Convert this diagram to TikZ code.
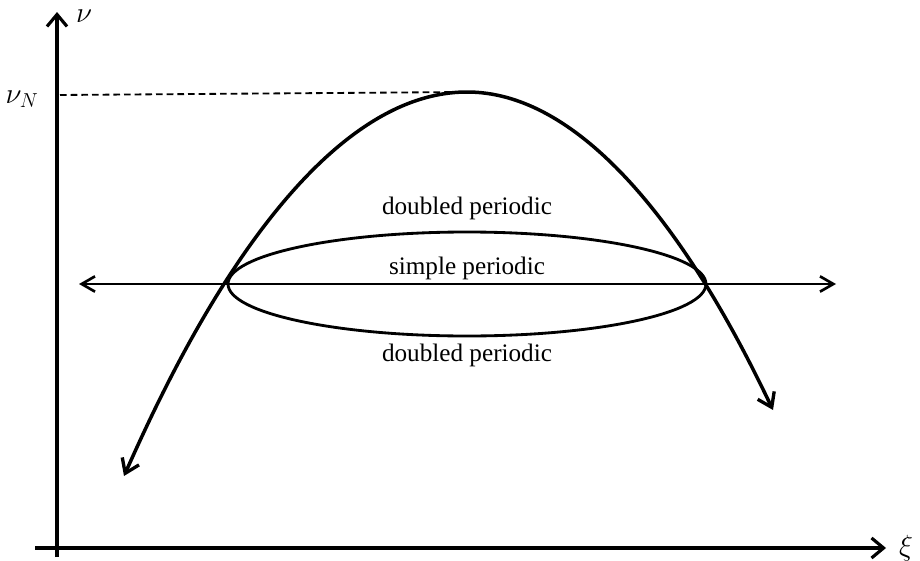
\documentclass[tikz,border=0pt]{standalone}
\usepackage{fontspec}
\setmainfont{Liberation Serif}
\usetikzlibrary{arrows.meta}
\tikzset{
  axisline/.style={line width=0.95mm, -{Straight Barb[length=3.6mm,width=6mm,line width=0.95mm]}},
  curveline/.style={line width=1.05mm,
    {Straight Barb[length=4mm,width=5.5mm,line width=1mm]}-{Straight Barb[length=4mm,width=5.5mm,line width=1mm]}},
  bothways/.style={line width=0.8mm,
    {Straight Barb[length=4mm,width=4.6mm,line width=0.8mm]}-{Straight Barb[length=4mm,width=4.6mm,line width=0.8mm]}},
  regionlabel/.style={font=\fontsize{21.5}{25}\selectfont, inner sep=0pt},
  axislabel/.style={font=\fontsize{23}{26}\selectfont, inner sep=0pt}
}

\begin{document}
\begin{tikzpicture}[x=0.03cm, y=-0.03cm]
  \useasboundingbox (0,0) rectangle (920,561);
  % Axes
  \coordinate (origin) at (57,548);
  \coordinate (ytop) at (57,12);
  \coordinate (xright) at (886,548);
  \draw[axisline] (57,557) -- (ytop);
  \draw[axisline] (35,548) -- (xright);
  \node[axislabel] (nu) at (84,16) {$\nu$};
  \node[axislabel] (xi) at (906,548) {$\xi$};
  % Level of the peak
  \coordinate (peak) at (467,92);
  \coordinate (vN) at (60,95);
  \node[axislabel] (nuN) at (22,99) {$\nu_N$};
  \draw[dashed, line width=0.55mm, dash pattern=on 2mm off 1.2mm, shorten >=12pt] (vN) -- (peak);
  % Dispersion curve
  \coordinate (leftend) at (124,476);
  \coordinate (rightend) at (773,410);
  \draw[curveline] (leftend) parabola bend (peak) (rightend);
  % Horizontal line
  \coordinate (hleft) at (79,284);
  \coordinate (hright) at (836,284);
  \draw[bothways] (hleft) -- (hright);
  % Ellipse
  \coordinate (centre) at (467,284);
  \draw[line width=0.85mm] (centre) ellipse [x radius=239, y radius=52];
  % Regions
  \node[regionlabel] (upper) at (467,208) {doubled periodic};
  \node[regionlabel] (middle) at (467,268) {simple periodic};
  \node[regionlabel] (lower) at (467,355) {doubled periodic};
\end{tikzpicture}
\end{document}
